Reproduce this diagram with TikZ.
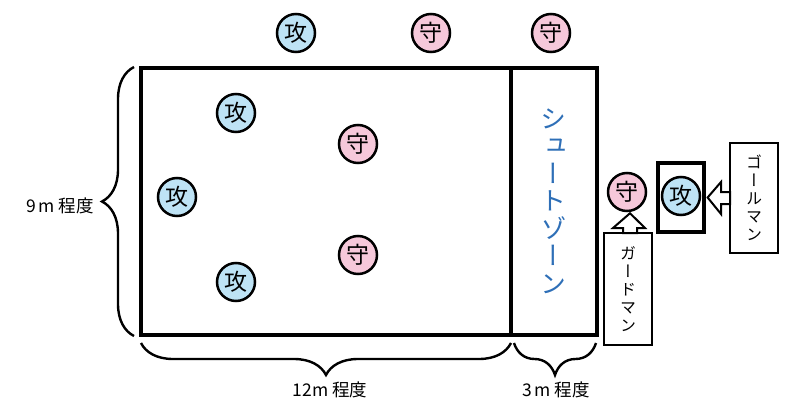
\documentclass[tikz,border=0pt]{standalone}
\usepackage{fontspec}
\setmainfont{Noto Sans CJK JP}
\newfontfamily\vjp[RawFeature={+vert}]{Noto Sans CJK JP}
\usetikzlibrary{decorations.pathreplacing,calc}
\definecolor{atkblue}{HTML}{BEE3F5}
\definecolor{defpink}{HTML}{F6C8DA}
\definecolor{zoneblue}{HTML}{2E6FB7}
\begin{document}
\begin{tikzpicture}[x=1pt,y=-1pt,
  player/.style={circle,draw,line width=2.5pt,minimum size=38pt,inner sep=0pt,font=\fontsize{23}{23}\selectfont},
  att/.style={player,fill=atkblue},
  defp/.style={player,fill=defpink},
  lbox/.style={minimum width=48pt,inner sep=0pt,outer sep=0pt,align=center,font=\vjp\fontsize{16}{18}\selectfont},
  boxline/.style={draw,line width=2pt},
  bracedec/.style={line width=2.4pt,decorate,decoration={brace,amplitude=32pt,aspect=0.5}},
  blockarrow/.style={draw,line width=2pt,fill=white,line join=miter},
  dimlabel/.style={font=\fontsize{17.5}{17.5}\selectfont,inner sep=0pt}
]
\useasboundingbox (0,0) rectangle (800,415);

% field
\coordinate (fTL) at (141,68);
\coordinate (fBR) at (597,335);
\coordinate (zT) at (511,68);
\coordinate (zB) at (511,335);
\draw[line width=3.2pt] (fTL) rectangle (fBR);
\draw[line width=3.2pt] (zT) -- (zB);

\node[font=\vjp\fontsize{26}{27.5}\selectfont,text=zoneblue,align=center,inner sep=0pt] (zone) at (553,201) {シ\\ュ\\ー\\ト\\ゾ\\ー\\ン};

% players top
\node[att] (a1) at (296,33) {攻};
\node[defp] (d1) at (431,33) {守};
\node[defp] (d2) at (551,33) {守};
% players inside
\node[att] (a2) at (236,113) {攻};
\node[defp] (d3) at (358,144) {守};
\node[att] (a3) at (177,197) {攻};
\node[defp] (d4) at (358,255) {守};
\node[att] (a4) at (236,282) {攻};

% goal side
\node[draw,line width=3.2pt,minimum width=46pt,minimum height=69pt,inner sep=0pt] (gkbox) at (681,197.5) {};
\node[att] (gk) at (681,196) {攻};
\node[defp] (guard) at (627,192) {守};

\node[lbox,minimum height=110pt] (gm) at (754,198) {ゴ\\ー\\ル\\マ\\ン};
\node[lbox,minimum height=112pt] (gd) at (628,289) {ガ\\ー\\ド\\マ\\ン};

% block arrows
\draw[blockarrow] ($(gkbox.east)+(2,0)$) -- ($(gm.west)+(-9,-16)$) -- ($(gm.west)+(-9,-6)$) -- ($(gm.west)+(0,-6)$)
  -- ($(gm.west)+(0,6)$) -- ($(gm.west)+(-9,6)$) -- ($(gm.west)+(-9,16)$) -- cycle;
\draw[blockarrow] ($(guard.south)+(3,1)$) -- ($(gd.north)+(-15,-5)$) -- ($(gd.north)+(-5,-5)$) -- ($(gd.north)+(-5,0)$)
  -- ($(gd.north)+(9,0)$) -- ($(gd.north)+(9,-5)$) -- ($(gd.north)+(17,-5)$) -- cycle;
\draw[boxline] (gm.north west) rectangle (gm.south east);
\draw[boxline] (gd.north west) rectangle (gd.south east);

% braces
\coordinate (lb1) at (134,336);
\coordinate (lb2) at (134,67);
\draw[bracedec] (lb1) -- (lb2);
\node[dimlabel,anchor=east] (h9) at (94,206) {9\,m 程度};

\coordinate (b1a) at (511,343);
\coordinate (b1b) at (141,343);
\draw[bracedec] (b1a) -- (b1b);
\node[dimlabel] (w12) at (330,390) {12m 程度};

\coordinate (b2a) at (596,343);
\coordinate (b2b) at (514,343);
\draw[bracedec] (b2a) -- (b2b);
\node[dimlabel] (w3) at (556,390) {3\,m 程度};
\end{tikzpicture}
\end{document}
